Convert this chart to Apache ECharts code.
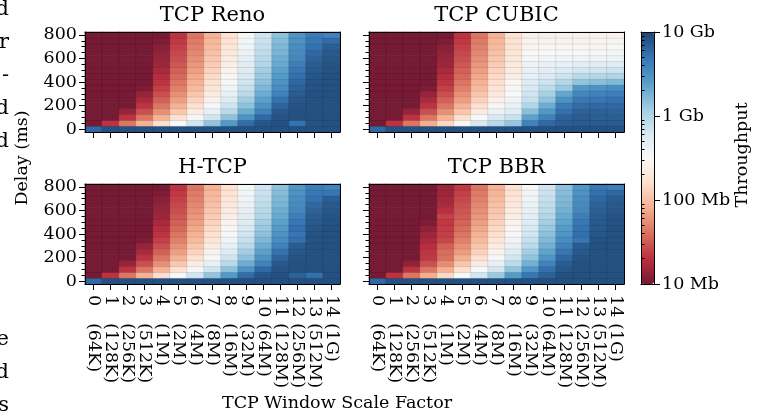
<!DOCTYPE html>
<html>
<head>
<meta charset="utf-8">
<script src="https://cdn.jsdelivr.net/npm/echarts@6/dist/echarts.min.js"></script>
<style>
  html, body { margin: 0; padding: 0; background: #fff; }
  #chart { width: 765px; height: 416px; }
</style>
</head>
<body>
<div id="chart"></div>
<script>
const FONT = 'DejaVu Serif'

// window scale factor (x) and delay in ms (y)
const scaleFactors = ['0','1','2','3','4','5','6','7','8','9','10','11','12','13','14']
const windowSizes = ['64K','128K','256K','512K','1M','2M','4M','8M','16M','32M','64M','128M','256M','512M','1G']
const delays = ['0','50','100','150','200','250','300','350','400','450','500','550','600','650','700','750','800']
const titles = ['TCP Reno', 'TCP CUBIC', 'H-TCP', 'TCP BBR']

// throughput in Mb/s, one row per delay (0 ms first), one column per scale factor
const reno = [
  [6000,8400,8400,8400,8400,8400,8400,8400,8400,8400,8400,8400,8400,8400,8400],
  [10,21,42,84,160,330,660,1400,2700,5800,7800,8400,5200,8200,8400],
  [10,10,21,42,84,168,336,670,1450,3000,6000,8200,8400,8400,8400],
  [10,10,14,28,56,112,224,450,900,2000,4000,7600,8400,8400,8400],
  [10,10,10,21,42,84,168,336,670,1450,3000,6400,8200,8400,8400],
  [10,10,10,17,34,67,134,270,540,1150,2400,5200,7800,8400,8400],
  [10,10,10,14,28,56,112,224,450,900,2000,4000,7200,8400,8400],
  [10,10,10,11,24,48,96,192,380,770,1700,3400,6600,8200,8400],
  [10,10,10,10,21,42,84,168,336,670,1450,3000,6000,8200,8400],
  [10,10,10,10,19,37,75,150,300,600,1300,2600,5400,7800,8400],
  [10,10,10,10,17,34,67,134,270,540,1150,2400,4900,7400,8200],
  [10,10,10,10,15,31,61,122,244,490,980,2100,4400,7200,8200],
  [10,10,10,10,14,28,56,112,224,450,900,2000,3700,6600,7800],
  [10,10,10,10,13,26,52,103,206,410,830,1800,3500,6000,7600],
  [10,10,10,10,12,24,48,96,192,380,770,1700,3300,5200,7000],
  [10,10,10,10,11,22,45,90,179,358,716,1550,3100,4800,5800],
  [10,10,10,10,10,21,42,84,168,336,670,1450,2900,4500,4000]
]
const cubic = [
  [6000,8400,8400,8400,8400,8400,8400,8400,8400,8400,8400,8400,8400,8400,8400],
  [10,21,42,80,140,300,600,900,1350,4000,6000,7000,7200,7200,7200],
  [10,10,21,42,84,160,330,600,750,2400,4000,6600,7200,7000,7000],
  [10,10,14,28,56,110,220,400,500,1500,2800,5400,6600,6700,6600],
  [10,10,10,21,42,84,165,300,420,950,2000,4500,5800,6000,6000],
  [10,10,10,17,34,67,130,250,360,750,1400,3100,4800,5000,5200],
  [10,10,10,14,28,56,110,210,320,680,1100,2200,3700,4000,4200],
  [10,10,10,11,24,48,95,185,300,580,850,1300,2800,3100,3300],
  [10,10,10,10,21,42,84,165,290,520,700,950,1400,1500,1650],
  [10,10,10,10,19,37,75,150,240,450,560,700,900,950,1000],
  [10,10,10,10,17,34,67,134,225,420,480,560,650,680,700],
  [10,10,10,10,15,31,61,122,215,390,420,450,480,500,500],
  [10,10,10,10,14,28,56,112,200,340,360,370,380,390,400],
  [10,10,10,10,13,26,52,103,190,310,320,330,330,340,350],
  [10,10,10,10,12,24,48,96,180,280,290,300,300,300,310],
  [10,10,10,10,11,22,45,90,175,265,270,275,275,280,285],
  [10,10,10,10,10,21,42,84,168,255,255,260,260,265,270]
]
const htcp = [
  [6000,8400,8400,8400,8400,8400,8400,8400,8400,8400,8400,8400,8400,8400,8400],
  [10,21,42,84,160,330,660,1400,2700,5800,7800,8400,6600,5400,8400],
  [10,10,21,42,84,168,336,670,1450,3000,6000,8200,8400,8400,8400],
  [10,10,14,28,56,112,224,450,900,2000,4000,7600,8400,8400,8400],
  [10,10,10,21,42,84,168,336,670,1450,3000,6400,8200,8400,8400],
  [10,10,10,17,34,67,134,270,540,1150,2400,5200,7800,8400,8400],
  [10,10,10,14,28,56,112,224,450,900,2000,4000,7200,8400,8400],
  [10,10,10,11,24,48,96,192,380,770,1700,3400,5400,8200,8400],
  [10,10,10,10,21,42,84,168,336,670,1450,3000,5000,8200,8400],
  [10,10,10,10,19,37,75,150,300,600,1300,2600,5400,7800,8400],
  [10,10,10,10,17,34,67,134,270,540,1150,2400,4900,7400,8200],
  [10,10,10,10,15,31,61,122,244,490,980,2100,4400,7200,8200],
  [10,10,10,10,14,28,56,112,224,450,900,2000,3700,6600,7800],
  [10,10,10,10,13,26,52,103,206,410,830,1800,3500,6000,7600],
  [10,10,10,10,12,24,48,96,192,380,770,1700,3300,5200,7000],
  [10,10,10,10,11,22,45,90,179,358,716,1550,3100,4800,5000],
  [10,10,10,10,10,21,42,84,168,336,670,1450,2800,4400,3900]
]
const bbr = [
  [6000,8400,8400,8400,8400,8400,8400,8400,8400,8400,8400,8400,8400,8400,8400],
  [10,21,42,80,150,330,650,1300,2600,5000,6600,8400,8400,8400,8400],
  [10,10,21,42,80,165,330,650,1400,2900,5400,7800,8400,8400,8400],
  [10,10,13,28,55,110,220,440,880,1900,4000,7200,8400,8400,8400],
  [10,10,10,22,40,82,165,330,660,1400,2900,6000,8200,8400,8400],
  [10,10,10,21,38,65,130,265,530,1150,2300,5000,7600,8400,8400],
  [10,10,10,20,34,56,110,220,440,880,1900,4000,7200,8400,8400],
  [10,10,10,17,26,48,95,190,380,760,1650,3300,5000,8200,8400],
  [10,10,10,15,24,42,84,165,330,660,1450,2900,5400,7800,8400],
  [10,10,10,13,23,38,75,148,295,590,1300,2600,5200,7600,8400],
  [10,10,10,11,22,35,67,132,265,530,1150,2300,4800,7400,8200],
  [10,10,10,10,24,32,61,120,240,480,960,2100,4400,7200,8200],
  [10,10,10,10,20,30,56,110,220,440,880,1900,3700,7000,7800],
  [10,10,10,10,17,28,52,102,205,410,820,1750,3500,6600,7600],
  [10,10,10,10,16,26,48,95,190,380,760,1650,3300,6000,7200],
  [10,10,10,10,15,24,45,89,178,355,710,1550,3100,5400,6000],
  [10,10,10,10,15,22,42,84,168,335,670,1450,2800,4800,4300]
]
const panels = [reno, cubic, htcp, bbr]

// colorbar ticks (Mb/s)
const cbTicks = [10, 100, 1000, 10000]
const cbLabels = ['10 Mb', '100 Mb', '1 Gb', '10 Gb']
const cbMinor = [20,30,40,50,60,70,80,90,200,300,400,500,600,700,800,900,2000,3000,4000,5000,6000,7000,8000,9000]

// matplotlib RdBu drawn at 0.9 alpha on white
const rdbu = ['#761a35','#ba2f40','#da705f','#f5ae8f','#fddfcd','#f8f8f8','#d6e8f2','#9dcbe1','#569ec9','#3775b4','#1e4571']

const boxes = [
  { left: 85, top: 32 }, { left: 369, top: 32 },
  { left: 85, top: 184 }, { left: 369, top: 184 }
]
const PW = 255, PH = 100
const line = { color: '#000', width: 1 }
const txt = { fontFamily: FONT, fontSize: 17.5, color: '#000' }

const grid = [], xAxis = [], yAxis = [], series = []

boxes.forEach((b, i) => {
  grid.push({ left: b.left, top: b.top, width: PW, height: PH, containLabel: false })
  // bottom axis with ticks (+ labels on the lower row)
  xAxis.push({
    gridIndex: i, type: 'category', data: scaleFactors, position: 'bottom', boundaryGap: true, z: 10,
    axisLine: { show: true, lineStyle: line },
    axisTick: { show: true, alignWithLabel: true, interval: 0, length: 6, lineStyle: line },
    axisLabel: {
      show: i >= 2, interval: 0, rotate: -90, margin: 11,
      formatter: (v, idx) => `{n|${v}}{s|(${windowSizes[idx]})}`,
      rich: {
        n: { ...txt, width: 28 },
        s: { ...txt }
      }
    },
    splitLine: { show: false }
  })
  // top spine
  xAxis.push({
    gridIndex: i, type: 'category', data: scaleFactors, position: 'top', z: 10,
    axisLine: { show: true, lineStyle: line }, axisTick: { show: false }, axisLabel: { show: false }
  })
  // minor ticks every 50 ms
  yAxis.push({
    gridIndex: i, type: 'category', data: delays, position: 'left', z: 10,
    axisLine: { show: false },
    axisTick: { show: true, alignWithLabel: true, interval: 0, length: 3.5, lineStyle: line },
    axisLabel: { show: false }, splitLine: { show: false }
  })
  // major ticks + labels
  yAxis.push({
    gridIndex: i, type: 'category', data: delays, position: 'left', z: 10,
    axisLine: { show: true, lineStyle: line },
    axisTick: { show: true, alignWithLabel: true, interval: 3, length: 6, lineStyle: line },
    axisLabel: { show: i % 2 === 0, interval: 3, margin: 8, ...txt },
    splitLine: { show: false }
  })
  // right spine
  yAxis.push({
    gridIndex: i, type: 'category', data: delays, position: 'right', z: 10,
    axisLine: { show: true, lineStyle: line }, axisTick: { show: false }, axisLabel: { show: false }
  })

  const rows = panels[i]
  const data = []
  rows.forEach((row, r) => row.forEach((v, c) => data.push([c, r, Math.log10(v)])))
  series.push({
    type: 'heatmap', xAxisIndex: i * 2, yAxisIndex: i * 3, data,
    itemStyle: { borderColor: 'rgba(0,0,0,0.15)', borderWidth: 0.6 },
    emphasis: { disabled: true }, silent: true
  })
})

// colorbar frame + log ticks
const CB = { left: 641, top: 32, width: 13, height: 252 }
grid.push({ ...CB, containLabel: false })
const cbg = grid.length - 1
xAxis.push({ gridIndex: cbg, type: 'value', min: 0, max: 1, position: 'bottom', z: 10,
  axisLine: { show: true, onZero: false, lineStyle: line }, axisTick: { show: false }, axisLabel: { show: false }, splitLine: { show: false } })
xAxis.push({ gridIndex: cbg, type: 'value', min: 0, max: 1, position: 'top', z: 10,
  axisLine: { show: true, onZero: false, lineStyle: line }, axisTick: { show: false }, axisLabel: { show: false }, splitLine: { show: false } })
yAxis.push({ gridIndex: cbg, type: 'value', min: 1, max: 4, position: 'left', z: 10,
  axisLine: { show: true, onZero: false, lineStyle: line }, axisTick: { show: false }, axisLabel: { show: false }, splitLine: { show: false } })
yAxis.push({ gridIndex: cbg, type: 'value', min: 1, max: 4, interval: 1, position: 'right', z: 10,
  axisLine: { show: true, onZero: false, lineStyle: line },
  axisTick: { show: true, length: 6, lineStyle: line },
  axisLabel: { show: true, margin: 8, ...txt,
    formatter: v => cbLabels[cbTicks.indexOf(Math.round(Math.pow(10, v)))] || '' },
  splitLine: { show: false } })
yAxis.push({ gridIndex: cbg, type: 'value', min: 1, max: 4, position: 'right', z: 10,
  axisLine: { show: false },
  axisTick: { show: true, length: 3.5, lineStyle: line, customValues: cbMinor.map(v => Math.log10(v)) },
  axisLabel: { show: false }, splitLine: { show: false } })

const graphic = []
titles.forEach((t, i) => {
  graphic.push({ type: 'text', x: boxes[i].left + PW / 2, y: boxes[i].top - 16, silent: true,
    style: { text: t, fontFamily: FONT, fontSize: 21, fill: '#000', align: 'center', verticalAlign: 'middle' } })
})
graphic.push({ type: 'text', x: 22, y: 158, rotation: Math.PI / 2, silent: true,
  style: { text: 'Delay (ms)', fontFamily: FONT, fontSize: 17.5, fill: '#000', align: 'center', verticalAlign: 'middle' } })
graphic.push({ type: 'text', x: 337, y: 403, silent: true,
  style: { text: 'TCP Window Scale Factor', fontFamily: FONT, fontSize: 17.5, fill: '#000', align: 'center', verticalAlign: 'middle' } })
graphic.push({ type: 'text', x: 742, y: 155, rotation: Math.PI / 2, silent: true,
  style: { text: 'Throughput', fontFamily: FONT, fontSize: 17.5, fill: '#000', align: 'center', verticalAlign: 'middle' } })

// line endings of the neighbouring text column, cut by the crop
const marginText = [['d', 10], ['r', 43], ['-', 76], ['d', 109], ['d', 142], ['e', 340], ['d', 373], ['s', 406]]
marginText.forEach(([t, y]) => {
  graphic.push({ type: 'text', x: 9, y, silent: true,
    style: { text: t, fontFamily: FONT, fontSize: 21, fill: '#000', align: 'right', verticalAlign: 'middle' } })
})

const chart = echarts.init(document.getElementById('chart'), null, { renderer: 'canvas' })
chart.setOption({
  animation: false,
  backgroundColor: '#fff',
  grid, xAxis, yAxis, series, graphic,
  visualMap: {
    type: 'continuous', min: 1, max: 4, dimension: 2, seriesIndex: [0, 1, 2, 3],
    orient: 'vertical', left: CB.left, top: CB.top, itemWidth: CB.width, itemHeight: CB.height,
    padding: 0, calculable: false, hoverLink: false, text: null,
    inRange: { color: rdbu }
  }
})
</script>
</body>
</html>
